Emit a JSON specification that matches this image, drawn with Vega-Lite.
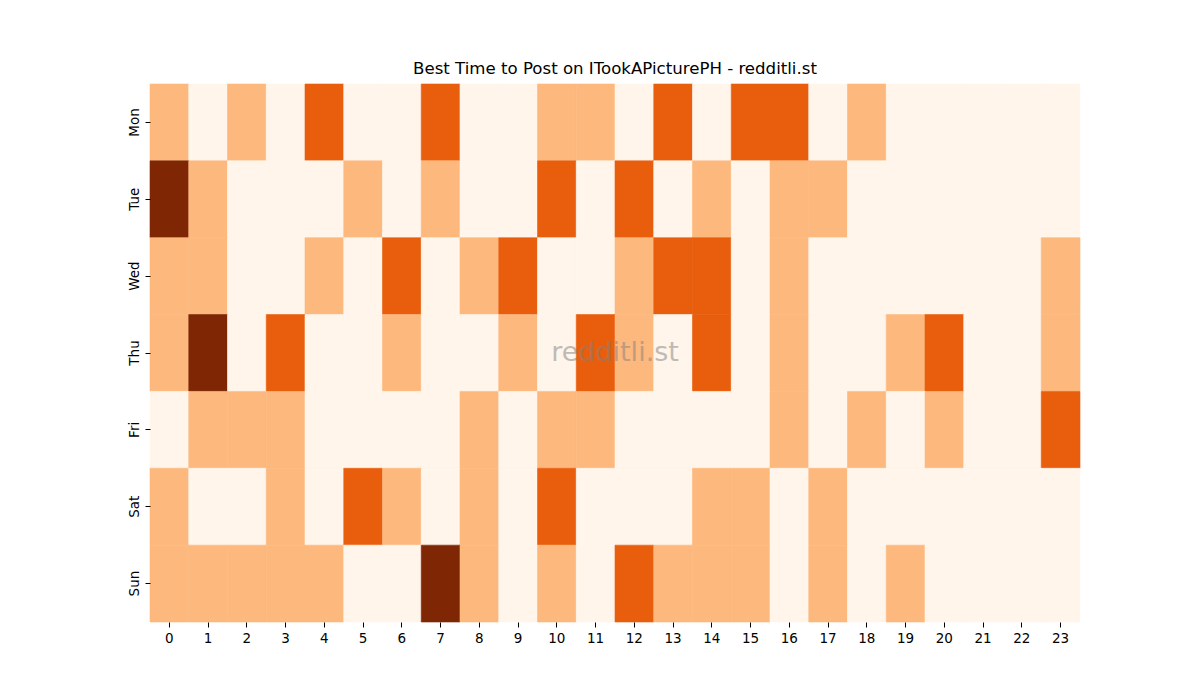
{
  "$schema": "https://vega.github.io/schema/vega-lite/v6.json",
  "width": 930,
  "height": 538,
  "autosize": "none",
  "padding": {"left": 150, "top": 84, "right": 120, "bottom": 78},
  "background": "white",
  "config": {"view": {"stroke": null}, "font": "DejaVu Sans"},
  "title": {"text": "Best Time to Post on ITookAPicturePH - redditli.st", "fontSize": 16.6, "fontWeight": "normal", "font": "DejaVu Sans", "color": "black", "offset": 6},
  "datasets": {
    "grid": [
      {"d":"Mon","h":0,"v":1},{"d":"Mon","h":1,"v":0},{"d":"Mon","h":2,"v":1},{"d":"Mon","h":3,"v":0},{"d":"Mon","h":4,"v":2},{"d":"Mon","h":5,"v":0},{"d":"Mon","h":6,"v":0},{"d":"Mon","h":7,"v":2},{"d":"Mon","h":8,"v":0},{"d":"Mon","h":9,"v":0},{"d":"Mon","h":10,"v":1},{"d":"Mon","h":11,"v":1},{"d":"Mon","h":12,"v":0},{"d":"Mon","h":13,"v":2},{"d":"Mon","h":14,"v":0},{"d":"Mon","h":15,"v":2},{"d":"Mon","h":16,"v":2},{"d":"Mon","h":17,"v":0},{"d":"Mon","h":18,"v":1},{"d":"Mon","h":19,"v":0},{"d":"Mon","h":20,"v":0},{"d":"Mon","h":21,"v":0},{"d":"Mon","h":22,"v":0},{"d":"Mon","h":23,"v":0},
      {"d":"Tue","h":0,"v":3},{"d":"Tue","h":1,"v":1},{"d":"Tue","h":2,"v":0},{"d":"Tue","h":3,"v":0},{"d":"Tue","h":4,"v":0},{"d":"Tue","h":5,"v":1},{"d":"Tue","h":6,"v":0},{"d":"Tue","h":7,"v":1},{"d":"Tue","h":8,"v":0},{"d":"Tue","h":9,"v":0},{"d":"Tue","h":10,"v":2},{"d":"Tue","h":11,"v":0},{"d":"Tue","h":12,"v":2},{"d":"Tue","h":13,"v":0},{"d":"Tue","h":14,"v":1},{"d":"Tue","h":15,"v":0},{"d":"Tue","h":16,"v":1},{"d":"Tue","h":17,"v":1},{"d":"Tue","h":18,"v":0},{"d":"Tue","h":19,"v":0},{"d":"Tue","h":20,"v":0},{"d":"Tue","h":21,"v":0},{"d":"Tue","h":22,"v":0},{"d":"Tue","h":23,"v":0},
      {"d":"Wed","h":0,"v":1},{"d":"Wed","h":1,"v":1},{"d":"Wed","h":2,"v":0},{"d":"Wed","h":3,"v":0},{"d":"Wed","h":4,"v":1},{"d":"Wed","h":5,"v":0},{"d":"Wed","h":6,"v":2},{"d":"Wed","h":7,"v":0},{"d":"Wed","h":8,"v":1},{"d":"Wed","h":9,"v":2},{"d":"Wed","h":10,"v":0},{"d":"Wed","h":11,"v":0},{"d":"Wed","h":12,"v":1},{"d":"Wed","h":13,"v":2},{"d":"Wed","h":14,"v":2},{"d":"Wed","h":15,"v":0},{"d":"Wed","h":16,"v":1},{"d":"Wed","h":17,"v":0},{"d":"Wed","h":18,"v":0},{"d":"Wed","h":19,"v":0},{"d":"Wed","h":20,"v":0},{"d":"Wed","h":21,"v":0},{"d":"Wed","h":22,"v":0},{"d":"Wed","h":23,"v":1},
      {"d":"Thu","h":0,"v":1},{"d":"Thu","h":1,"v":3},{"d":"Thu","h":2,"v":0},{"d":"Thu","h":3,"v":2},{"d":"Thu","h":4,"v":0},{"d":"Thu","h":5,"v":0},{"d":"Thu","h":6,"v":1},{"d":"Thu","h":7,"v":0},{"d":"Thu","h":8,"v":0},{"d":"Thu","h":9,"v":1},{"d":"Thu","h":10,"v":0},{"d":"Thu","h":11,"v":2},{"d":"Thu","h":12,"v":1},{"d":"Thu","h":13,"v":0},{"d":"Thu","h":14,"v":2},{"d":"Thu","h":15,"v":0},{"d":"Thu","h":16,"v":1},{"d":"Thu","h":17,"v":0},{"d":"Thu","h":18,"v":0},{"d":"Thu","h":19,"v":1},{"d":"Thu","h":20,"v":2},{"d":"Thu","h":21,"v":0},{"d":"Thu","h":22,"v":0},{"d":"Thu","h":23,"v":1},
      {"d":"Fri","h":0,"v":0},{"d":"Fri","h":1,"v":1},{"d":"Fri","h":2,"v":1},{"d":"Fri","h":3,"v":1},{"d":"Fri","h":4,"v":0},{"d":"Fri","h":5,"v":0},{"d":"Fri","h":6,"v":0},{"d":"Fri","h":7,"v":0},{"d":"Fri","h":8,"v":1},{"d":"Fri","h":9,"v":0},{"d":"Fri","h":10,"v":1},{"d":"Fri","h":11,"v":1},{"d":"Fri","h":12,"v":0},{"d":"Fri","h":13,"v":0},{"d":"Fri","h":14,"v":0},{"d":"Fri","h":15,"v":0},{"d":"Fri","h":16,"v":1},{"d":"Fri","h":17,"v":0},{"d":"Fri","h":18,"v":1},{"d":"Fri","h":19,"v":0},{"d":"Fri","h":20,"v":1},{"d":"Fri","h":21,"v":0},{"d":"Fri","h":22,"v":0},{"d":"Fri","h":23,"v":2},
      {"d":"Sat","h":0,"v":1},{"d":"Sat","h":1,"v":0},{"d":"Sat","h":2,"v":0},{"d":"Sat","h":3,"v":1},{"d":"Sat","h":4,"v":0},{"d":"Sat","h":5,"v":2},{"d":"Sat","h":6,"v":1},{"d":"Sat","h":7,"v":0},{"d":"Sat","h":8,"v":1},{"d":"Sat","h":9,"v":0},{"d":"Sat","h":10,"v":2},{"d":"Sat","h":11,"v":0},{"d":"Sat","h":12,"v":0},{"d":"Sat","h":13,"v":0},{"d":"Sat","h":14,"v":1},{"d":"Sat","h":15,"v":1},{"d":"Sat","h":16,"v":0},{"d":"Sat","h":17,"v":1},{"d":"Sat","h":18,"v":0},{"d":"Sat","h":19,"v":0},{"d":"Sat","h":20,"v":0},{"d":"Sat","h":21,"v":0},{"d":"Sat","h":22,"v":0},{"d":"Sat","h":23,"v":0},
      {"d":"Sun","h":0,"v":1},{"d":"Sun","h":1,"v":1},{"d":"Sun","h":2,"v":1},{"d":"Sun","h":3,"v":1},{"d":"Sun","h":4,"v":1},{"d":"Sun","h":5,"v":0},{"d":"Sun","h":6,"v":0},{"d":"Sun","h":7,"v":3},{"d":"Sun","h":8,"v":1},{"d":"Sun","h":9,"v":0},{"d":"Sun","h":10,"v":1},{"d":"Sun","h":11,"v":0},{"d":"Sun","h":12,"v":2},{"d":"Sun","h":13,"v":1},{"d":"Sun","h":14,"v":1},{"d":"Sun","h":15,"v":1},{"d":"Sun","h":16,"v":0},{"d":"Sun","h":17,"v":1},{"d":"Sun","h":18,"v":0},{"d":"Sun","h":19,"v":1},{"d":"Sun","h":20,"v":0},{"d":"Sun","h":21,"v":0},{"d":"Sun","h":22,"v":0},{"d":"Sun","h":23,"v":0}
    ],
    "mark": [{"label": "redditli.st"}]
  },
  "layer": [
    {
      "data": {"name": "grid"},
      "mark": {"type": "rect", "strokeWidth": 0.6},
      "encoding": {
        "x": {"field": "h", "type": "ordinal", "sort": "ascending", "scale": {"paddingInner": 0, "paddingOuter": 0},
              "axis": {"title": null, "labelAngle": 0, "labelFont": "DejaVu Sans", "labelFontSize": 13.5, "labelColor": "black", "domain": false, "tickColor": "black", "tickSize": 5, "labelPadding": 4}},
        "y": {"field": "d", "type": "ordinal", "sort": ["Mon","Tue","Wed","Thu","Fri","Sat","Sun"], "scale": {"paddingInner": 0, "paddingOuter": 0},
              "axis": {"title": null, "labelAngle": -90, "labelAlign": "center", "labelBaseline": "bottom", "labelFont": "DejaVu Sans", "labelFontSize": 13.5, "labelColor": "black", "domain": false, "tickColor": "black", "tickSize": 5, "labelPadding": 4}},
        "color": {"field": "v", "type": "ordinal", "scale": {"domain": [0,1,2,3], "range": ["#fff5eb", "#fdb97d", "#e95e0d", "#7f2704"]}, "legend": null},
        "stroke": {"field": "v", "type": "ordinal", "scale": {"domain": [0,1,2,3], "range": ["#fff5eb", "#fdb97d", "#e95e0d", "#7f2704"]}, "legend": null}
      }
    },
    {
      "data": {"name": "mark"},
      "mark": {"type": "text", "x": {"expr": "width/2"}, "y": {"expr": "height/2"}, "fontSize": 27, "font": "DejaVu Sans", "color": "#808080", "opacity": 0.5, "align": "center", "baseline": "middle"},
      "encoding": {"text": {"field": "label"}}
    }
  ]
}
